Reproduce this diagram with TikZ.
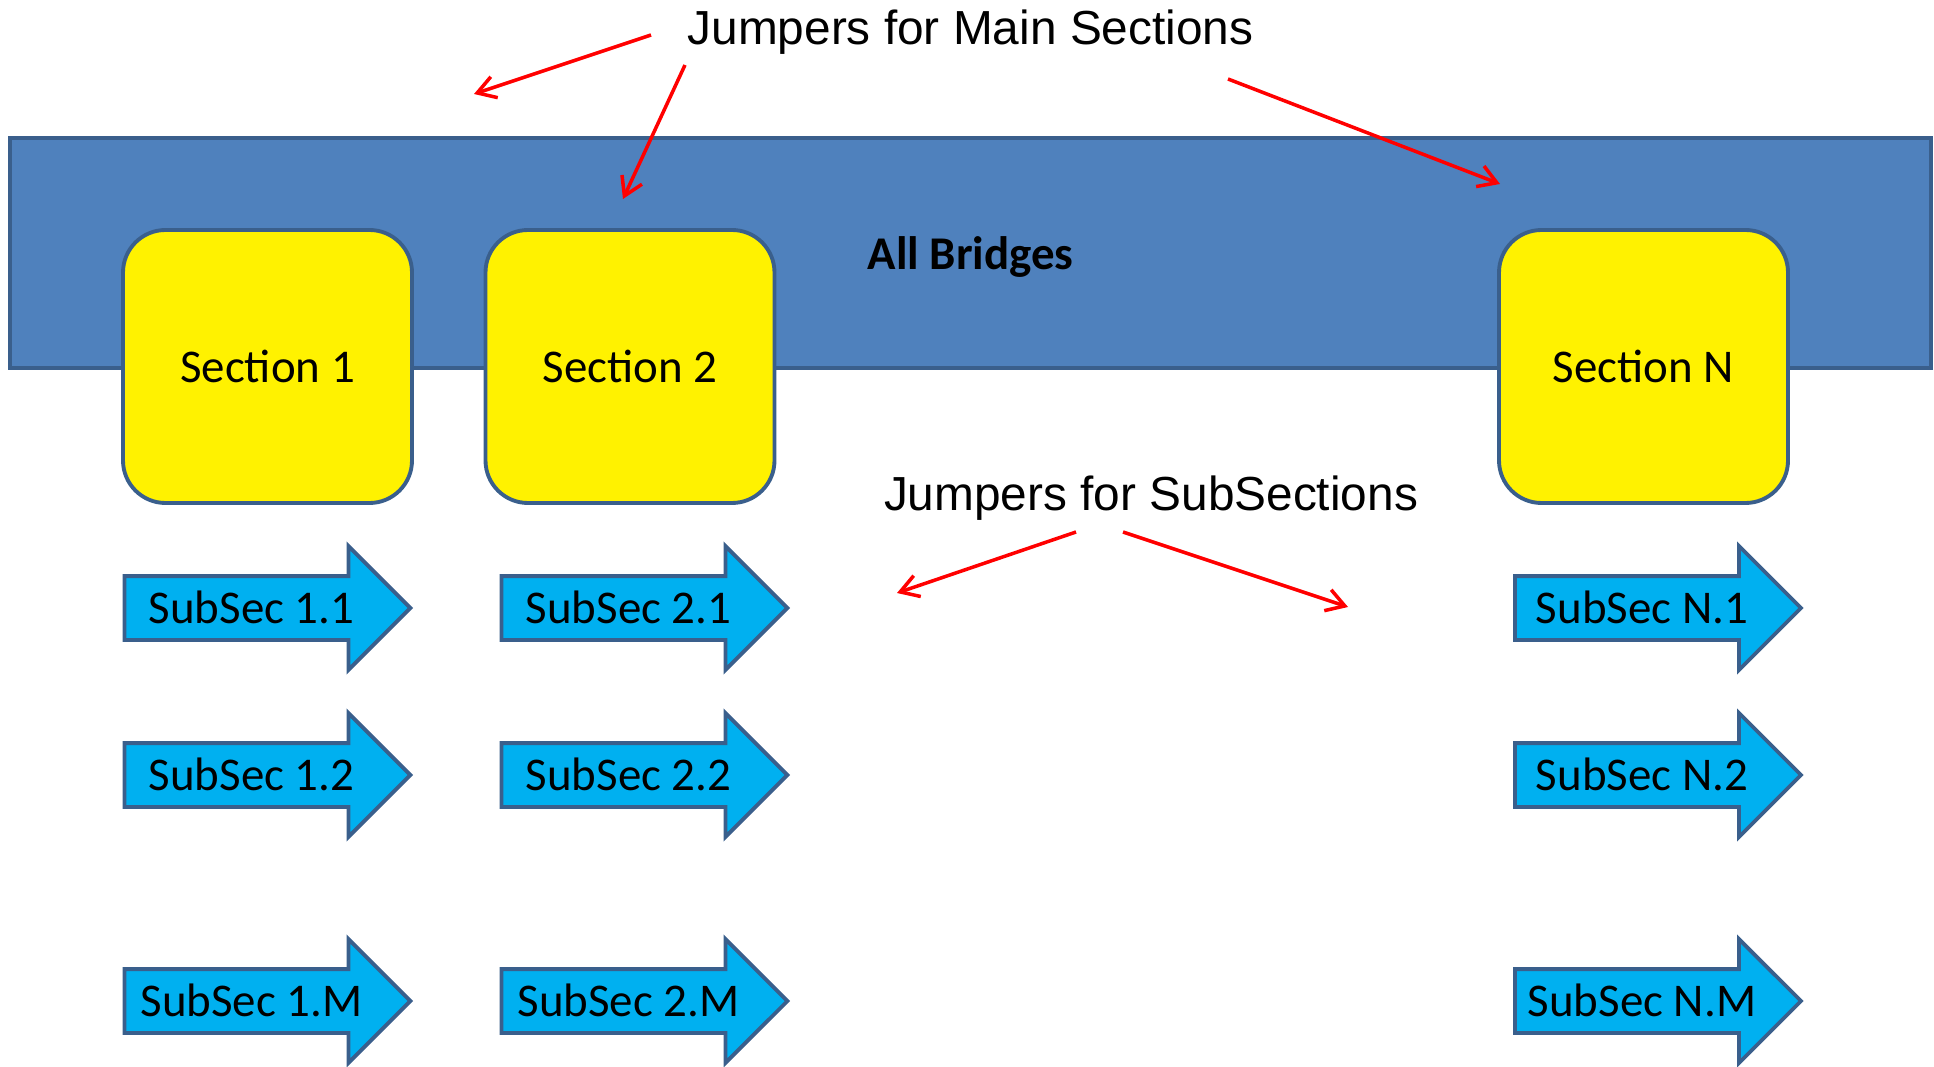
\documentclass[tikz,border=0pt]{standalone}
\usepackage{fontspec}
\setmainfont{Carlito}
\newfontfamily\arialfont{Liberation Sans}
\usepackage{tikz}
\usetikzlibrary{shapes, shapes.arrows, arrows.meta, positioning}
\definecolor{barblue}{HTML}{4F81BD}
\definecolor{edgeblue}{HTML}{3A5F8C}
\definecolor{subblue}{HTML}{00B0F0}
\tikzstyle{bar} = [draw=edgeblue, line width=2.2pt, fill=barblue, rectangle, minimum width=38.42cm, minimum height=4.6cm, text depth=0pt, font=\fontsize{26.7}{30}\selectfont\bfseries]
\tikzstyle{section} = [draw=edgeblue, line width=2.2pt, fill=yellow, rectangle, rounded corners=0.85cm, minimum width=5.78cm, minimum height=5.46cm, font=\fontsize{26.7}{30}\selectfont]
\tikzstyle{subsec} = [draw=edgeblue, line width=2.2pt, fill=subblue, single arrow, single arrow head extend=0.6cm, single arrow tip angle=90, minimum height=5.72cm, minimum width=2.4cm, text height=0.6cm, text depth=0pt, inner ysep=0.3cm, inner xsep=2pt, font=\fontsize{26.7}{30}\selectfont]
\tikzstyle{jumper} = [font=\arialfont\fontsize{27.2}{30}\selectfont]
\tikzstyle{jump} = [draw=red, line width=2pt, -{Straight Barb[length=0.36cm, width=0.44cm]}]

\begin{document}
\begin{tikzpicture}[auto,>=latex]
  \useasboundingbox (0,0) rectangle (38.68,21.32);
  \node[bar] (bridges) at (19.41,16.26) {All Bridges};
  \node[section] (S1) at (5.35,13.99) {Section 1};
  \node[section, right of=S1, node distance=7.25cm] (S2) {Section 2};
  \node[section, right of=S2, node distance=20.27cm] (SN) {Section N};
  % subsection arrows
  \node[subsec] (A11) at (5.03,9.16) {SubSec 1.1};
  \node[subsec, below of=A11, node distance=3.34cm] (A12) {SubSec 1.2};
  \node[subsec, below of=A12, node distance=4.52cm] (A1M) {SubSec 1.M};
  \node[subsec] (A21) at (12.57,9.16) {SubSec 2.1};
  \node[subsec, below of=A21, node distance=3.34cm] (A22) {SubSec 2.2};
  \node[subsec, below of=A22, node distance=4.52cm] (A2M) {SubSec 2.M};
  \node[subsec] (AN1) at (32.84,9.16) {SubSec N.1};
  \node[subsec, below of=AN1, node distance=3.34cm] (AN2) {SubSec N.2};
  \node[subsec, below of=AN2, node distance=4.52cm] (ANM) {SubSec N.M};
  % jumpers
  \node[jumper, anchor=base] (mainjump) at (19.41,20.42) {Jumpers for Main Sections};
  \node[jumper, anchor=base] (subjump) at (23.02,11.10) {Jumpers for SubSections};
  \coordinate (m1) at (13.02,20.62);
  \coordinate (m1e) at (9.48,19.44);
  \coordinate (m2) at (13.70,20.02);
  \coordinate (m2e) at (12.46,17.34);
  \coordinate (m3) at (24.56,19.74);
  \coordinate (m3e) at (30.00,17.64);
  \coordinate (s1) at (21.52,10.68);
  \coordinate (s1e) at (17.94,9.46);
  \coordinate (s2) at (22.46,10.68);
  \coordinate (s2e) at (26.96,9.18);
  \draw[jump] (m1) -- (m1e);
  \draw[jump] (m2) -- (m2e);
  \draw[jump] (m3) -- (m3e);
  \draw[jump] (s1) -- (s1e);
  \draw[jump] (s2) -- (s2e);
\end{tikzpicture}
\end{document}
